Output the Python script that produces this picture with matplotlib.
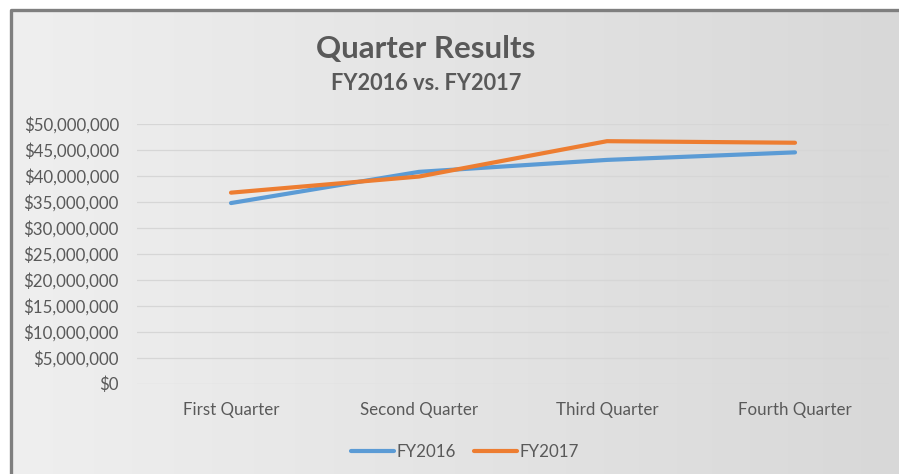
#!/usr/bin/env python

import numpy as np
import matplotlib
matplotlib.use('Agg')
import matplotlib.pyplot as plt
from matplotlib.ticker import FuncFormatter
from matplotlib.colors import LinearSegmentedColormap

# ==================================================================
quarters = ['First Quarter', 'Second Quarter', 'Third Quarter', 'Fourth Quarter']
fy2016 = [34700000, 40700000, 43000000, 44450000]
fy2017 = [36700000, 39800000, 46600000, 46300000]
y_ticks = list(range(0, 50000001, 5000000))

TXT = '#595959'
plt.rcParams['font.family'] = ['Lato', 'DejaVu Sans']

W, H = 899, 474
fig = plt.figure(figsize=(W / 100, H / 100), dpi=100)
fig.patch.set_facecolor('white')

# fondo con degradado + marco
bg = fig.add_axes([0, 0, 1, 1])
bg.set_xlim(0, W)
bg.set_ylim(H, 0)
bg.axis('off')
grad = np.linspace(0, 1, 256).reshape(1, -1)
cmap = LinearSegmentedColormap.from_list('g', ['#efefef', '#e4e4e4', '#d8d8d8'])
bg.imshow(grad, cmap=cmap, extent=[11, W, H, 10], aspect='auto', zorder=0)
bg.plot([10.5, 10.5, W], [H, 9.5, 9.5], color='#7f7f7f', lw=2.4,
        solid_capstyle='butt', zorder=1)

# ==================================================================
ax = fig.add_axes([137 / W, 1 - 383.5 / H, 752 / W, 260 / H])
ax.patch.set_alpha(0)
x = np.arange(len(quarters))
ax.plot(x, fy2016, color='#5b9bd5', lw=3, solid_capstyle='round',
        solid_joinstyle='round', label='FY2016', zorder=3)
ax.plot(x, fy2017, color='#ed7d31', lw=3, solid_capstyle='round',
        solid_joinstyle='round', label='FY2017', zorder=3)

ax.set_xlim(-0.5, len(quarters) - 0.5)
ax.set_ylim(0, 50000000)
ax.set_yticks(y_ticks)
ax.yaxis.set_major_formatter(FuncFormatter(lambda v, p: '${:,.0f}'.format(v)))
ax.set_xticks(x)
ax.set_xticklabels(quarters)
ax.grid(axis='y', color='#d6d6d6', lw=0.9)
ax.set_axisbelow(True)
for s in ax.spines.values():
    s.set_visible(False)
ax.tick_params(axis='both', length=0, labelsize=12.2, colors=TXT)
ax.tick_params(axis='y', pad=13)
ax.tick_params(axis='x', pad=13)

fig.text(426 / W, 1 - 49.5 / H, 'Quarter Results', ha='center', va='center',
         fontsize=22.5, fontweight='bold', color=TXT)
fig.text(426 / W, 1 - 84 / H, 'FY2016 vs. FY2017', ha='center', va='center',
         fontsize=15.7, fontweight='bold', color=TXT)

leg = fig.legend(loc='center', bbox_to_anchor=(465 / W, 1 - 452 / H), ncol=2,
                 frameon=False, fontsize=12.2, handlelength=2.5,
                 handletextpad=0.15, columnspacing=1.1)
for t in leg.get_texts():
    t.set_color(TXT)

fig.savefig('out.png', dpi=100)
